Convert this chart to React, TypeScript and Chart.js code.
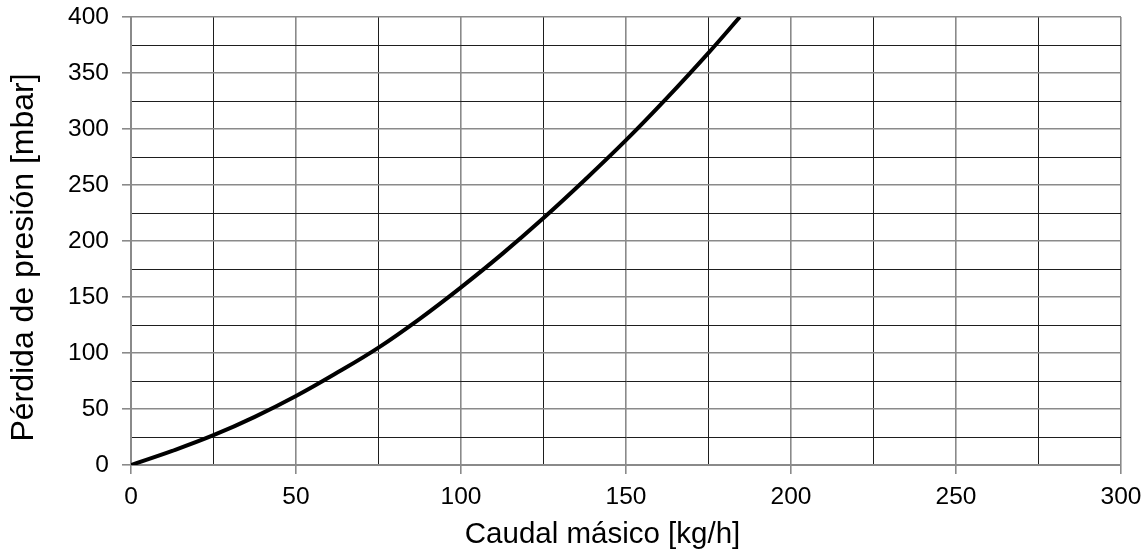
import React, { useEffect, useRef } from "react";
import { Chart, registerables } from "chart.js";

Chart.register(...registerables);

const flowKgH = [0, 12.5, 25, 37.5, 50, 62.5, 75, 87.5, 100, 112.5, 125, 137.5, 150, 162.5, 175, 184.5];
const pressureLossMbar = [0, 12.6, 26.6, 43, 61.6, 82.5, 104.8, 130.5, 158.6, 188.5, 220.5, 254.5, 290, 328, 368, 400];

const xTitle = "Caudal másico [kg/h]";
const yTitle = "Pérdida de presión [mbar]";

const FONT = "'Liberation Sans', Arial, Helvetica, sans-serif";
const MAJOR = "#8a8a8a";
const MINOR = "#1e1e1e";

const titlePlugin = {
  id: "axisTitles",
  afterDraw(chart: any) {
    const { ctx, chartArea } = chart;
    ctx.save();
    ctx.fillStyle = "#000";
    ctx.textAlign = "center";
    ctx.textBaseline = "alphabetic";
    ctx.font = `29.5px ${FONT}`;
    const cx = (chartArea.left + chartArea.right) / 2 - 23.5;
    ctx.fillText(xTitle, cx, chartArea.bottom + 78);
    ctx.font = `32px ${FONT}`;
    const cy = (chartArea.top + chartArea.bottom) / 2 + 16.5;
    ctx.translate(chartArea.left - 98, cy);
    ctx.rotate(-Math.PI / 2);
    ctx.fillText(yTitle, 0, 0);
    ctx.restore();
  },
};

export default function App() {
  const ref = useRef<HTMLCanvasElement | null>(null);

  useEffect(() => {
    document.body.style.margin = "0";
    const canvas = ref.current!;
    const points = flowKgH.map((x, i) => ({ x, y: pressureLossMbar[i] }));
    const isMajor = (v: number) => Math.abs(v % 50) < 1e-6;
    const gridColor = (ctx: any) => (ctx.tick && isMajor(ctx.tick.value) ? MAJOR : MINOR);
    const gridWidth = (ctx: any) => (ctx.tick && isMajor(ctx.tick.value) ? 1.6 : 1);
    const tickColor = (ctx: any) => (ctx.tick && isMajor(ctx.tick.value) ? MAJOR : "rgba(0,0,0,0)");
    const label = (v: any) => (isMajor(Number(v)) ? String(v) : "");

    const chart = new Chart(canvas, {
      type: "scatter",
      data: {
        datasets: [
          {
            data: points,
            showLine: true,
            borderColor: "#000",
            borderWidth: 4,
            pointRadius: 0,
            tension: 0.4,
            fill: false,
          },
        ],
      },
      options: {
        animation: false,
        responsive: false,
        maintainAspectRatio: false,
        layout: { padding: { top: 17, right: 27, left: 0, bottom: 0 } },
        plugins: { legend: { display: false }, tooltip: { enabled: false } },
        scales: {
          x: {
            type: "linear",
            min: 0,
            max: 300,
            afterFit: (s: any) => {
              s.height = 89;
              s.paddingLeft = 0;
              s.paddingRight = 0;
            },
            ticks: {
              stepSize: 25,
              autoSkip: false,
              maxRotation: 0,
              color: "#000",
              font: { family: FONT, size: 24.5 },
              padding: 9,
              callback: label,
            },
            grid: { color: gridColor, lineWidth: gridWidth, tickColor, tickLength: 9, tickWidth: 1.6 },
            border: { color: MAJOR, width: 2 },
          },
          y: {
            type: "linear",
            min: 0,
            max: 400,
            afterFit: (s: any) => {
              s.width = 131;
              s.paddingTop = 0;
              s.paddingBottom = 0;
            },
            ticks: {
              stepSize: 25,
              autoSkip: false,
              color: "#000",
              font: { family: FONT, size: 24.5 },
              padding: 13,
              callback: label,
            },
            grid: { color: gridColor, lineWidth: gridWidth, tickColor, tickLength: 9, tickWidth: 1.6 },
            border: { color: MAJOR, width: 2 },
          },
        },
      },
      plugins: [titlePlugin],
    });
    return () => chart.destroy();
  }, []);

  return (
    <div style={{ position: "absolute", left: 0, top: 0, width: 1148, height: 554, background: "#fff" }}>
      <canvas ref={ref} width={1148} height={554} style={{ width: 1148, height: 554, display: "block" }} />
    </div>
  );
}
